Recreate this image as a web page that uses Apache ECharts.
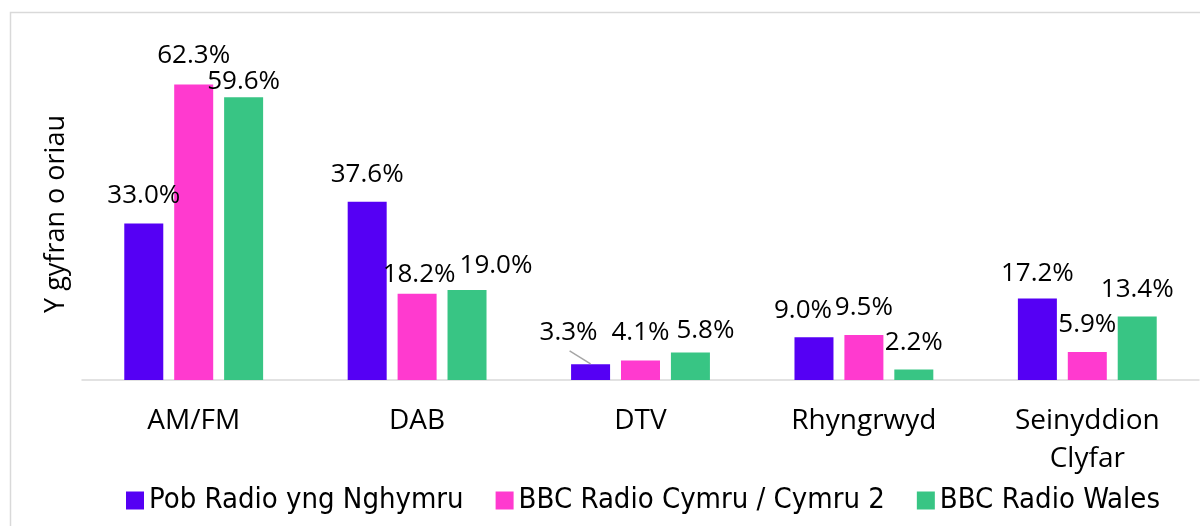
<!DOCTYPE html>
<html>
<head>
<meta charset="utf-8">
<script src="https://cdn.jsdelivr.net/npm/echarts@6/dist/echarts.min.js"></script>
<style>
html,body{margin:0;padding:0;background:#fff;}
#chart{width:1200px;height:526px;}
</style>
</head>
<body>
<div id="chart"></div>
<script>
const categories = ['AM/FM', 'DAB', 'DTV', 'Rhyngrwyd', 'Seinyddion\nClyfar'];
const seriesNames = ['Pob Radio yng Nghymru', 'BBC Radio Cymru / Cymru 2', 'BBC Radio Wales'];
const pobRadio = [33.0, 37.6, 3.3, 9.0, 17.2];
const bbcCymru = [62.3, 18.2, 4.1, 9.5, 5.9];
const bbcWales = [59.6, 19.0, 5.8, 2.2, 13.4];
const yAxisTitle = 'Y gyfran o oriau';

const colors = ['#5500F4', '#FF3ACF', '#38C584'];
const values = [pobRadio, bbcCymru, bbcWales];

// label nudges [series][dataIndex] -> [dx, dy]
const labelNudge = {
  0: {0: [0, -1], 2: [-22, -5], 3: [-11, 0], 4: [0, 2]},
  1: {0: [0, -2], 1: [2, 8], 2: [0, -1]},
  2: {0: [0, 11], 1: [29, 3], 2: [15, 5]}
};
// leader line from a moved label to its bar: [seriesIndex, dataIndex]
const leaderLine = [0, 2];

const chart = echarts.init(document.getElementById('chart'));
const series = values.map((arr, si) => ({
  name: seriesNames[si],
  type: 'bar',
  barWidth: 39,
  barGap: '28%',
  itemStyle: {color: colors[si]},
  data: arr,
  label: {
    show: true,
    position: 'top',
    distance: 14,
    fontFamily: 'Open Sans',
    fontSize: 26,
    color: '#000',
    formatter: p => p.value.toFixed(1) + '%'
  },
  labelLayout: p => {
    const n = labelNudge[p.seriesIndex] && labelNudge[p.seriesIndex][p.dataIndex];
    return n ? {dx: n[0], dy: n[1]} : {};
  }
}));

const borderGraphic = {
  type: 'rect',
  shape: {x: 10.5, y: 12.5, width: 1300, height: 700},
  style: {fill: null, stroke: '#d9d9d9', lineWidth: 1.5},
  silent: true
};

chart.setOption({
  animation: false,
  backgroundColor: '#fff',
  graphic: [borderGraphic],
  grid: {left: 82, right: 1, top: 48, bottom: 146, containLabel: false},
  legend: {
    data: seriesNames,
    left: 121,
    top: 481,
    icon: 'rect',
    itemWidth: 18,
    itemHeight: 18,
    itemGap: 32,
    textStyle: {fontFamily: 'Liberation Sans Narrow, DejaVu Sans Condensed, sans-serif', fontSize: 29, color: '#000'}
  },
  xAxis: {
    type: 'category',
    data: categories,
    axisLine: {show: true, lineStyle: {color: '#d9d9d9', width: 1.5}},
    axisTick: {show: false},
    axisLabel: {fontFamily: 'Open Sans', fontSize: 28, color: '#000', margin: 22, lineHeight: 38, interval: 0}
  },
  yAxis: {
    type: 'value',
    min: 0,
    max: 70,
    name: yAxisTitle,
    nameLocation: 'middle',
    nameRotate: 90,
    nameGap: 12,
    nameTextStyle: {fontFamily: 'Open Sans', fontSize: 27, color: '#000'},
    axisLine: {show: false},
    axisTick: {show: false},
    axisLabel: {show: false},
    splitLine: {show: false}
  },
  series: series
});

// leader line, anchored on the bar layout computed by ECharts
const lay = chart.getModel().getSeriesByIndex(leaderLine[0]).getData().getItemLayout(leaderLine[1]);
if (lay) {
  const cx = lay.x + lay.width / 2;
  const top = Math.min(lay.y, lay.y + lay.height);
  chart.setOption({
    graphic: [borderGraphic, {
      type: 'line',
      shape: {x1: cx - 21, y1: top - 13.5, x2: cx, y2: top - 0.5},
      style: {stroke: '#a6a6a6', lineWidth: 1.5},
      silent: true,
      z: 10
    }]
  });
}
</script>
</body>
</html>
